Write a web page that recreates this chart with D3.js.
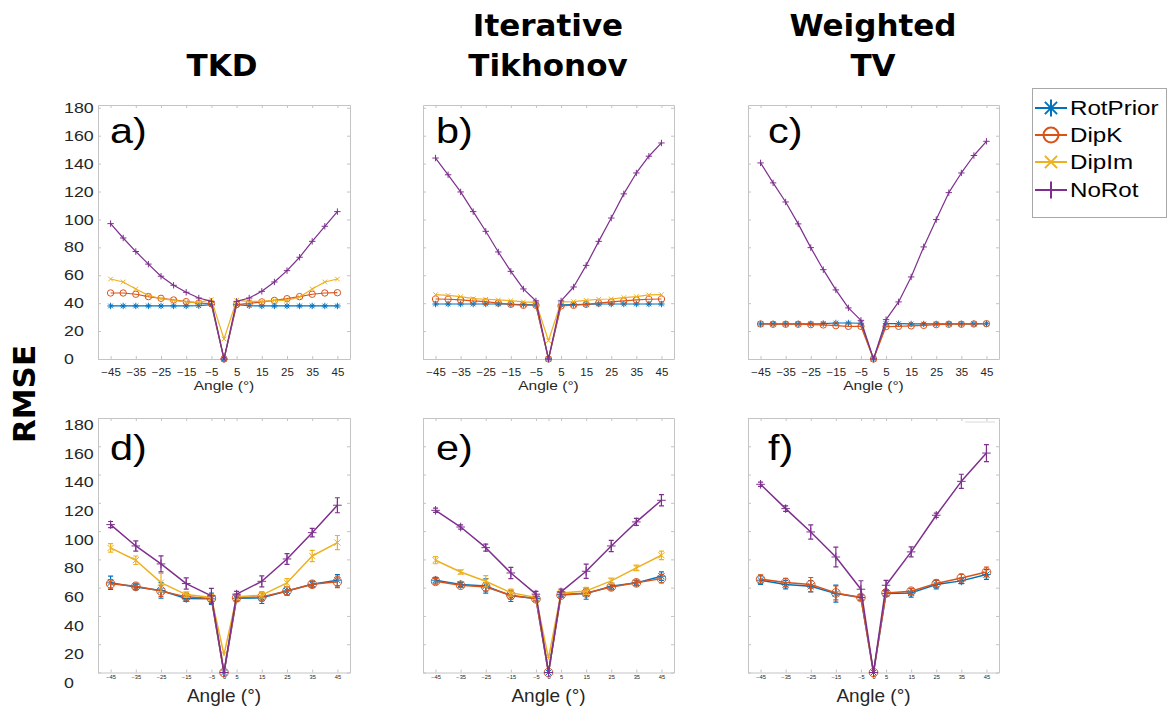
<!DOCTYPE html>
<html>
<head>
<meta charset="utf-8">
<script src="https://cdn.jsdelivr.net/npm/d3@7"></script>
<style>
  body { margin: 0; background: #fff; }
  svg { display: block; }
</style>
</head>
<body>
<svg id="chart" width="1172" height="709"></svg>
<script>
// ---------- data ----------
const seriesNames   = ["RotPrior", "DipK", "DipIm", "NoRot"];
const methodTitles  = [["TKD"], ["Iterative", "Tikhonov"], ["Weighted", "TV"]];
const panelLetters  = [["a)", "b)", "c)"], ["d)", "e)", "f)"]];

// rotation angles (degrees)
const anglesFine   = [-45, -40, -35, -30, -25, -20, -15, -10, -5, 0, 5, 10, 15, 20, 25, 30, 35, 40, 45];
const anglesCoarse = [-45, -35, -25, -15, -5, 0, 5, 15, 25, 35, 45];
const tickAnglesTop    = [-45, -35, -25, -15, -5, 5, 15, 25, 35, 45];
const tickAnglesBottom = [-45, -35, -25, -15, -5, 0, 5, 15, 25, 35, 45];
const rmseTicks = [0, 20, 40, 60, 80, 100, 120, 140, 160, 180];

// top row: RMSE per angle
const tkdRotPrior = [38, 38, 38, 38, 38, 38, 38, 38.2, 39, 0, 39, 38.2, 38, 38, 38, 38, 38, 38, 38];
const tkdDipK     = [47.3, 47.3, 46.4, 44.7, 43.5, 42.3, 41.1, 40.1, 39.7, 0, 39, 39.9, 40.9, 42, 43.2, 44.7, 46.4, 47.3, 47.5];
const tkdDipIm    = [57.3, 55.2, 50.2, 45.6, 43.2, 42, 41, 40.6, 42.5, 14.3, 42, 41.3, 41.3, 42, 42, 44.4, 50.2, 55.2, 57.3];
const tkdNoRot    = [97, 86.7, 77, 68, 59.3, 52.8, 47.8, 43.7, 41.3, 0, 41.3, 43.7, 48.5, 55.2, 63.3, 72.9, 84.3, 95.1, 105.6];

const itRotPrior = [39.4, 39.4, 39.4, 39.4, 39.4, 39.4, 39.2, 39, 38.8, 0, 38.8, 39, 39.2, 39.4, 39.4, 39.4, 39.4, 39.4, 39.4];
const itDipK     = [43, 42.8, 42.3, 41.6, 41.1, 40.1, 39.2, 38.5, 38.5, 0, 38, 38.5, 39.2, 40.1, 40.9, 41.6, 42.3, 42.8, 43];
const itDipIm    = [46.1, 45.6, 44.7, 43.2, 42.8, 42.3, 41.8, 40.9, 40.6, 13.1, 40.9, 41.1, 42, 42.8, 43, 44, 44.7, 45.9, 46.1];
const itNoRot    = [144, 132, 119.7, 105.6, 91.5, 76.7, 62.8, 50.2, 41.6, 0, 41.6, 51.6, 67.1, 84.3, 101, 118.3, 133.3, 145.3, 154.8];

const wtvRotPrior = [25.1, 25.1, 25.1, 25.1, 25.2, 25.4, 25.8, 25.8, 25.6, 0, 25.4, 25.3, 25.1, 25.1, 25.1, 25.1, 25.1, 25.2, 25.3];
const wtvDipK     = [25.1, 24.9, 24.9, 24.9, 24.6, 24.4, 23.9, 23.4, 23.4, 0, 23.2, 23.4, 23.7, 24.1, 24.6, 24.9, 24.9, 25.1, 25.3];
const wtvNoRot    = [140.5, 126.2, 112.5, 96.8, 79.8, 64, 49.5, 36.6, 27.7, 0, 28.2, 40.9, 58.8, 80.3, 99.9, 119.2, 133.3, 145.8, 156];

// bottom row: mean RMSE and error half-width per angle
const tkdRotPriorMean = [63.4, 60.5, 58, 52.3, 52.1, 0, 52.5, 52.8, 57.7, 62.4, 65.3];
const tkdRotPriorErr  = [4.7, 2, 5.5, 2, 4, 0, 2, 4, 3, 2, 4];
const tkdDipKMean     = [62.7, 61, 57.7, 53.5, 52.3, 0, 52.8, 53.5, 57.7, 62.4, 64.1];
const tkdDipKErr      = [3, 2, 4, 2, 2, 0, 2, 3, 3, 2, 4];
const tkdDipImMean    = [88.1, 79.4, 63.6, 55.1, 53, 12.7, 53.5, 54.7, 63.4, 82.4, 91.9];
const tkdDipImErr     = [3, 3, 6.5, 2, 2, 0, 2, 2, 3, 4, 5];
const tkdNoRotMean    = [104.6, 89.5, 76.8, 62.9, 54.2, 0, 55.4, 64.5, 80.3, 98.9, 118.3];
const tkdNoRotErr     = [2.2, 3.6, 5.7, 4, 5.3, 0, 2, 3.9, 3.8, 3, 5.3];

const itRotPriorMean = [65.3, 62.2, 61.2, 54.2, 52.3, 0, 55.1, 55.8, 61, 63.4, 68.1];
const itRotPriorErr  = [2, 1.5, 5, 4, 1.5, 0, 1.5, 4, 2, 1.5, 3];
const itDipKMean     = [64.5, 61.7, 60.5, 54.7, 52.1, 0, 54.7, 56.3, 60.5, 63.4, 66.4];
const itDipKErr      = [2, 1.5, 3, 3, 1.5, 0, 1.5, 2, 2, 2, 3];
const itDipImMean    = [79.4, 71.1, 64.5, 56.5, 53, 9.9, 56.3, 57.7, 64.8, 74, 82.9];
const itDipImErr     = [2.5, 1.5, 4, 2.5, 1.5, 0, 1.5, 2.5, 2, 2, 3];
const itNoRotMean    = [114.7, 102.9, 88.3, 70.4, 55.4, 0, 57, 71.6, 89.5, 106.5, 121.8];
const itNoRotErr     = [1.5, 1.5, 2.5, 4, 2, 0, 2, 5, 4, 2.5, 4];

const wtvRotPriorMean = [65.3, 62.2, 61, 55.8, 53, 0, 55.8, 56.3, 62.2, 64.8, 69.3];
const wtvRotPriorErr  = [3, 3, 4, 6, 2, 0, 2, 3, 3, 2, 3.5];
const wtvDipKMean     = [66, 63.6, 62.2, 56.3, 53, 0, 56.3, 57.5, 62.9, 66.9, 71.1];
const wtvDipKErr      = [3, 3, 5, 5, 2, 0, 2, 2, 2.5, 2.5, 3.5];
const wtvNoRotMean    = [133.1, 115.9, 99.4, 81.7, 58.9, 0, 61.7, 85.3, 111.2, 135.2, 155.2];
const wtvNoRotErr     = [1.5, 2, 5, 7, 6, 0, 3.5, 3.5, 1.5, 5, 6];

// ---------- styling ----------
const seriesColors  = ["#0072BD", "#D95319", "#EDB120", "#7E2F8E"];
const seriesMarkers = ["asterisk", "circle", "x", "plus"];
const frameColor = "#c4c4c4";
const textColor = "#262626";
const helv = "'Liberation Sans', Arial, sans-serif";
const stretch = 1.15;

const svg = d3.select("#chart");

// panels: [row][col] -> list of series {mean, err}
const panelData = [
  [
    [{v: tkdRotPrior}, {v: tkdDipK}, {v: tkdDipIm}, {v: tkdNoRot}],
    [{v: itRotPrior}, {v: itDipK}, {v: itDipIm}, {v: itNoRot}],
    [{v: wtvRotPrior}, {v: wtvDipK}, null, {v: wtvNoRot}]
  ],
  [
    [{v: tkdRotPriorMean, e: tkdRotPriorErr}, {v: tkdDipKMean, e: tkdDipKErr}, {v: tkdDipImMean, e: tkdDipImErr}, {v: tkdNoRotMean, e: tkdNoRotErr}],
    [{v: itRotPriorMean, e: itRotPriorErr}, {v: itDipKMean, e: itDipKErr}, {v: itDipImMean, e: itDipImErr}, {v: itNoRotMean, e: itNoRotErr}],
    [{v: wtvRotPriorMean, e: wtvRotPriorErr}, {v: wtvDipKMean, e: wtvDipKErr}, null, {v: wtvNoRotMean, e: wtvNoRotErr}]
  ]
];

const colBox = [[98, 350], [423, 674], [748, 999]];
const rowBox = [
  {top: 105, bottom: 359, ymax: 182, angles: anglesFine, ticks: tickAnglesTop, tickFont: 10, tickPad: 9.5,
   lw: 1.2, ms: 3.2, angleFont: 13.5, angleBase: 390, angleStretch: stretch, letterBase: 143},
  {top: 418, bottom: 672.5, ymax: 180, angles: anglesCoarse, ticks: tickAnglesBottom, tickFont: 5, tickPad: 2.5,
   lw: 1.5, ms: 4.3, angleFont: 19, angleBase: 702, angleStretch: 1.0, letterBase: 460}
];
const letterOffset = [12, 13, 20];

function markerPath(type, s) {
  const d = s * 0.72;
  if (type === "asterisk") return `M${-s},0H${s}M0,${-s}V${s}M${-d},${-d}L${d},${d}M${-d},${d}L${d},${-d}`;
  if (type === "x") return `M${-d},${-d}L${d},${d}M${-d},${d}L${d},${-d}`;
  if (type === "plus") return `M${-s},0H${s}M0,${-s}V${s}`;
  return "";
}

function drawMarker(g, type, x, y, s, color, sw) {
  if (type === "circle") {
    g.append("circle").attr("cx", x).attr("cy", y).attr("r", s)
      .attr("fill", "none").attr("stroke", color).attr("stroke-width", sw);
  } else {
    g.append("path").attr("transform", `translate(${x},${y})`).attr("d", markerPath(type, s))
      .attr("fill", "none").attr("stroke", color).attr("stroke-width", sw);
  }
}

function stretchedText(g, x, y, str, size, anchor, sx, extra) {
  const t = g.append("text")
    .attr("transform", `translate(${x},${y}) scale(${sx},1)`)
    .attr("font-family", helv).attr("font-size", size)
    .attr("fill", textColor).attr("text-anchor", anchor).text(str);
  if (extra) extra(t);
  return t;
}

rowBox.forEach((rb, r) => {
  colBox.forEach((cb, c) => {
    const x = d3.scaleLinear().domain([-50, 50]).range([cb[0], cb[1]]);
    const y = d3.scaleLinear().domain([0, rb.ymax]).range([rb.bottom, rb.top]);
    const g = svg.append("g");

    // frame with inward ticks on all sides
    const ax = (axis, tx, ty) => {
      const a = g.append("g").attr("transform", `translate(${tx},${ty})`).call(axis);
      a.selectAll(".domain").attr("stroke", frameColor);
      a.selectAll(".tick line").attr("stroke", frameColor);
      return a;
    };
    const bottomAx = ax(d3.axisBottom(x).tickValues(rb.ticks).tickSizeInner(-3).tickSizeOuter(0)
      .tickPadding(rb.tickPad).tickFormat(d3.format("d")), 0, rb.bottom);
    bottomAx.selectAll("text").attr("font-family", helv).attr("font-size", rb.tickFont)
      .attr("fill", textColor).attr("transform", `scale(${stretch},1)`);
    ax(d3.axisTop(x).tickValues(rb.ticks).tickSizeInner(-3).tickSizeOuter(0).tickFormat(""), 0, rb.top);
    ax(d3.axisLeft(y).tickValues(rmseTicks).tickSizeInner(-3).tickSizeOuter(0).tickFormat(""), cb[0], 0);
    ax(d3.axisRight(y).tickValues(rmseTicks).tickSizeInner(-3).tickSizeOuter(0).tickFormat(""), cb[1], 0);

    // y tick labels on the first column
    if (c === 0) {
      const labelY = r === 0 ? y : d3.scaleLinear().domain([0, 180]).range([683, 425]);
      rmseTicks.forEach(v => {
        stretchedText(svg, 64, labelY(v), String(v), 15.5, "start", stretch,
          t => t.attr("dominant-baseline", "central"));
      });
    }

    // series: lines, error bars, markers
    panelData[r][c].forEach((s, si) => {
      if (!s) return;
      const color = seriesColors[si];
      const pts = rb.angles.map((a, i) => ({a, v: s.v[i], e: s.e ? s.e[i] : 0}));
      const sg = g.append("g");
      sg.append("path").datum(pts)
        .attr("d", d3.line().x(d => x(d.a)).y(d => y(d.v)))
        .attr("fill", "none").attr("stroke", color).attr("stroke-width", rb.lw)
        .attr("stroke-linejoin", "round");
      if (s.e) {
        pts.filter(d => d.e > 0).forEach(d => {
          sg.append("path")
            .attr("d", `M${x(d.a)},${y(d.v - d.e)}V${y(d.v + d.e)}` +
                       `M${x(d.a) - 2.5},${y(d.v - d.e)}H${x(d.a) + 2.5}` +
                       `M${x(d.a) - 2.5},${y(d.v + d.e)}H${x(d.a) + 2.5}`)
            .attr("stroke", color).attr("stroke-width", 1.2).attr("fill", "none");
        });
      }
      pts.forEach(d => drawMarker(sg, seriesMarkers[si], x(d.a), y(d.v), rb.ms, color, 1));
    });

    // x axis title
    stretchedText(svg, (cb[0] + cb[1]) / 2, rb.angleBase, "Angle (°)", rb.angleFont, "middle", rb.angleStretch);

    // panel letter
    stretchedText(svg, cb[0] + letterOffset[c], rb.letterBase, panelLetters[r][c], 36, "start", stretch,
      t => t.attr("fill", "#000"));
  });
});

// leftover legend edge in panel f
svg.append("line").attr("x1", 965).attr("x2", 995).attr("y1", 422).attr("y2", 422)
  .attr("stroke", "#d8d8d8").attr("stroke-width", 1);

// column titles
const titleCx = [222, 548, 873];
methodTitles.forEach((lines, c) => {
  const base = lines.length === 1 ? [76] : [36, 76];
  lines.forEach((ln, i) => {
    svg.append("text").attr("x", titleCx[c]).attr("y", base[i])
      .attr("font-family", "'DejaVu Sans', Verdana, sans-serif").attr("font-weight", "bold")
      .attr("font-size", 31).attr("text-anchor", "middle").attr("fill", "#000").text(ln);
  });
});

// y axis title
svg.append("text").attr("transform", "translate(35,394) rotate(-90)")
  .attr("font-family", "'DejaVu Sans', Verdana, sans-serif").attr("font-weight", "bold")
  .attr("font-size", 31).attr("text-anchor", "middle").attr("fill", "#000").text("RMSE");

// legend
const lg = svg.append("g");
lg.append("rect").attr("x", 1032.5).attr("y", 88.5).attr("width", 134).attr("height", 129)
  .attr("fill", "#fff").attr("stroke", "#a8a8a8").attr("stroke-width", 1);
const legendY = [108, 135, 162, 190];
seriesNames.forEach((name, i) => {
  lg.append("line").attr("x1", 1035).attr("x2", 1067).attr("y1", legendY[i]).attr("y2", legendY[i])
    .attr("stroke", seriesColors[i]).attr("stroke-width", 2);
  drawMarker(lg, seriesMarkers[i], 1051, legendY[i], i === 1 ? 7.5 : 8.5, seriesColors[i], 2);
  stretchedText(lg, 1070, legendY[i], name, 21, "start", stretch,
    t => t.attr("dominant-baseline", "central").attr("fill", "#000"));
});
</script>
</body>
</html>
